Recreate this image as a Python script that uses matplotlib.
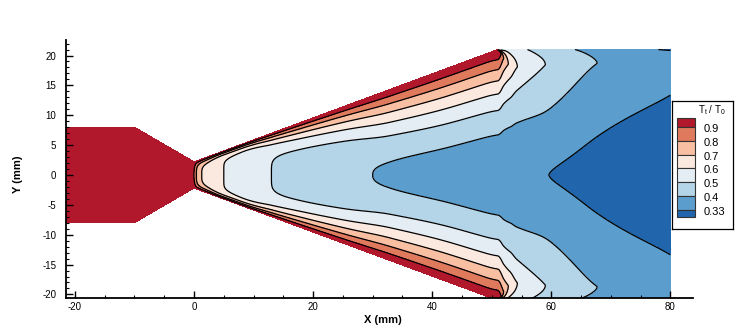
import numpy as np
import matplotlib.pyplot as plt
from matplotlib.patches import Rectangle
from matplotlib.ticker import MultipleLocator

plt.rcParams['font.family'] = ['Liberation Sans', 'DejaVu Sans']
plt.rcParams['axes.unicode_minus'] = False
plt.rcParams['mathtext.fontset'] = 'custom'
plt.rcParams['mathtext.rm'] = 'Liberation Sans'

# nozzle wall half-height (mm) along x
wall_x = [-22, -10, 0, 51, 80]
wall_h = [8, 8, 2.2, 21, 21]

# contour levels of Tt/T0 and flood colours (low -> high)
levels = [0.33, 0.4, 0.5, 0.6, 0.7, 0.8, 0.9]
colors = ['#2166ac', '#5b9ecd', '#b4d4e7', '#e5edf4',
          '#fbe9df', '#f8bfa3', '#e07a5d', '#b2182b']

# centreline values (x where each contour crosses y=0)
cl_x = [-22, 0, 0.4, 1.3, 5, 13, 30, 59.6, 80]
cl_T = [1.0, 0.9, 0.8, 0.7, 0.6, 0.5, 0.4, 0.33, 0.30]

# exponent of the cross-stream profile
n_x = [-22, 0, 2, 5, 8, 13, 18, 25, 33, 41, 51, 60, 70, 80]
n_v = [4.0, 4.0, 5.0, 7.5, 7.5, 5.0, 3.7, 2.8, 2.2, 2.1, 2.2, 1.6, 1.8, 2.0]

# peak value of the hot layer (wall value inside the nozzle)
pk_x = [40, 51, 52, 53, 54.3, 59, 67.7, 80]
pk_T = [1.0, 1.0, 0.8, 0.68, 0.6, 0.5, 0.4, 0.36]

# value on the outer boundary of the jet region
ed_x = [51, 51.4, 52, 56, 64, 78, 80]
ed_T = [1.0, 0.62, 0.57, 0.5, 0.4, 0.33, 0.325]

# relative position of the hot layer across the jet
ep_x = [45, 51, 52, 53.5, 60, 80]
ep_v = [1.0, 1.0, 0.93, 0.86, 0.88, 0.9]


def pchip(xk, yk, x):
    xk = np.asarray(xk, float)
    yk = np.asarray(yk, float)
    h = np.diff(xk)
    d = np.diff(yk) / h
    m = np.zeros_like(yk)
    m[0], m[-1] = d[0], d[-1]
    for k in range(1, len(xk) - 1):
        if d[k - 1] * d[k] > 0:
            w1 = 2 * h[k] + h[k - 1]
            w2 = h[k] + 2 * h[k - 1]
            m[k] = (w1 + w2) / (w1 / d[k - 1] + w2 / d[k])
    xc = np.clip(x, xk[0], xk[-1])
    i = np.clip(np.searchsorted(xk, xc) - 1, 0, len(xk) - 2)
    t = (xc - xk[i]) / h[i]
    h00 = 2 * t**3 - 3 * t**2 + 1
    h10 = t**3 - 2 * t**2 + t
    h01 = -2 * t**3 + 3 * t**2
    h11 = t**3 - t**2
    return h00 * yk[i] + h10 * h[i] * m[i] + h01 * yk[i + 1] + h11 * h[i] * m[i + 1]


# curvilinear grid following the walls
x = np.linspace(-22, 80, 1400)
s = np.linspace(-1, 1, 801)
X, S = np.meshgrid(x, np.sin(np.pi / 2 * s))
H = np.interp(X, wall_x, wall_h)
Y = S * H

# smoothed half-height for the cross-stream coordinate around the lip
slope = (21 - 2.2) / 51
w = 2.0
Hs = np.where(np.abs(X - 51) < w, 21 - slope * (51 + w - X) ** 2 / (4 * w), H)
e = np.clip(np.abs(Y) / Hs, 0, 1)

Tc = pchip(cl_x, cl_T, X)
n = pchip(n_x, n_v, X)
Tm = pchip(pk_x, pk_T, X)
Te = pchip(ed_x, ed_T, X)
ep = pchip(ep_x, ep_v, X)
ge = (Te - Tc) / (Tm - Tc)
P = np.where(e <= ep, (e / ep) ** n,
             1 - (1 - ge) * ((e - ep) / np.maximum(1 - ep, 1e-6)) ** 2)
T = Tc + (Tm - Tc) * P

fig = plt.figure(figsize=(7.47, 3.36), dpi=100)
ax = fig.add_axes([66 / 747, 38 / 336, 627 / 747, 258 / 336])

bounds = [0] + levels + [1.05]
ax.contourf(X, Y, T, levels=bounds, colors=colors)
ax.contour(X, Y, T, levels=levels, colors='black', linewidths=0.9)

ax.set_xlim(-21.5, 83.8)
ax.set_ylim(-20.6, 22.6)
for sp in ['top', 'right']:
    ax.spines[sp].set_visible(False)
for sp in ['left', 'bottom']:
    ax.spines[sp].set_linewidth(1.3)
ax.xaxis.set_major_locator(MultipleLocator(20))
ax.xaxis.set_minor_locator(MultipleLocator(5))
ax.yaxis.set_major_locator(MultipleLocator(5))
ax.yaxis.set_minor_locator(MultipleLocator(1))
ax.tick_params(which='major', direction='in', length=5, width=1.0, labelsize=7, pad=3)
ax.tick_params(which='minor', direction='in', length=2.5, width=0.8)
ax.tick_params(axis='y', which='major', pad=7)
ax.set_xticks(range(-20, 81, 20))
ax.set_yticks(range(-20, 21, 5))

ax.set_xlabel('X (mm)', fontsize=8, fontweight='bold')
ax.set_ylabel('Y (mm)', fontsize=8, fontweight='bold')
ax.xaxis.set_label_coords(0.506, -0.065)
ax.yaxis.set_label_coords(-0.068, 0.48)

# legend box
lg = fig.add_axes([672 / 747, 107 / 336, 61 / 747, 128 / 336])
lg.set_xlim(0, 61)
lg.set_ylim(128, 0)
lg.set_xticks([])
lg.set_yticks([])
for sp in lg.spines.values():
    sp.set_linewidth(0.9)
lg.text(40, 9, r'T$_{\rm t}$ / T$_{\rm 0}$', fontsize=7, ha='center', va='center')

step = 13.8
edges = [17] + [26 + i * step for i in range(len(levels))] + [26 + 6 * step + 7.5]
for i in range(len(colors)):
    top = edges[i]
    bot = edges[i + 1]
    lg.add_patch(Rectangle((5, top), 18, bot - top,
                           facecolor=colors[::-1][i], edgecolor='#333333', lw=0.8))
for i, lev in enumerate(levels[::-1]):
    lg.text(32, edges[i + 1] + 2, f'{lev:g}', fontsize=8, ha='left', va='center')

fig.savefig('out.png', dpi=100)
